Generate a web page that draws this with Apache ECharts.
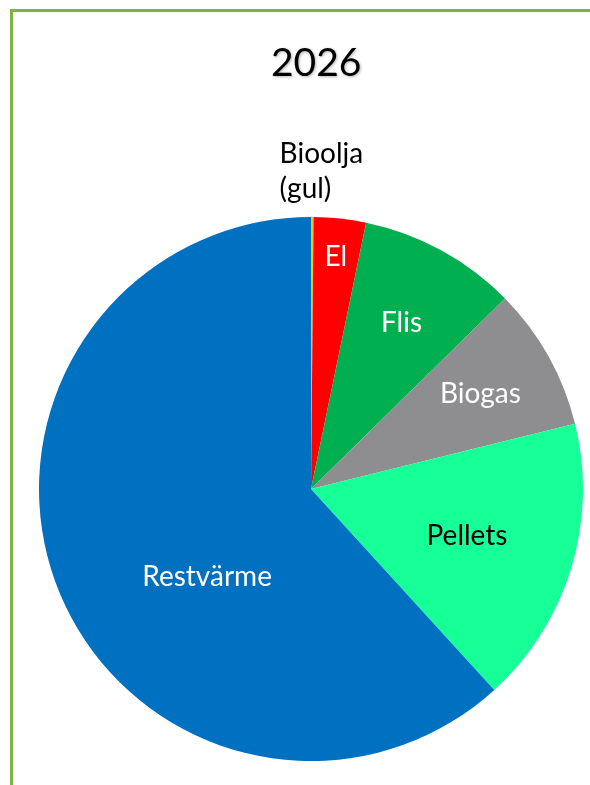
<!DOCTYPE html>
<html>
<head>
<meta charset="utf-8">
<script src="https://cdn.jsdelivr.net/npm/echarts@6/dist/echarts.min.js"></script>
<style>
    html, body { margin: 0; padding: 0; background: #fff; }
    #pieChart { width: 590px; height: 785px; }
</style>
</head>
<body>
<div id="pieChart"></div>
<script>
// 数据
var names = ['Bioolja\n(gul)', 'El', 'Flis', 'Biogas', 'Pellets', 'Restvärme']
var values = [0.15, 3.1, 9.4, 8.5, 17.1, 61.8]
var colors = ['#ffc000', '#ff0000', '#00b050', '#8e8e91', '#17ff97', '#0070c0']
var labelColors = ['#000', '#fff', '#fff', '#fff', '#000', '#fff']
// label distance from centre and angle shift (deg), per slice
var labelRadius = [318, 233, 189, 194, 163, 136]
var labelShift = [1.6, 0, 0, 0, 0, -19]

var cx = 311,
    cy = 489

var myChart = echarts.init(document.getElementById('pieChart'))
var data = values.map(function(v, i) {
    return {
        name: names[i],
        value: v,
        itemStyle: { color: colors[i] },
        label: { color: labelColors[i] },
    }
})

var option = {
    animation: false,
    title: {
        text: '2026',
        left: 266,
        top: 39,
        textStyle: {
            fontFamily: 'Lato',
            fontWeight: 'normal',
            fontSize: 39,
            color: '#000',
            textShadowColor: 'rgba(0,0,0,0.3)',
            textShadowBlur: 3,
            textShadowOffsetX: 1,
            textShadowOffsetY: 1,
        },
    },
    graphic: [
        {
            type: 'polyline',
            shape: { points: [[11.5, 785], [11.5, 10.5], [590, 10.5]] },
            style: { stroke: '#7fb445', lineWidth: 3, fill: null },
        },
    ],
    series: [
        {
            name: '2026',
            type: 'pie',
            center: [cx, cy],
            radius: [0, 272],
            startAngle: 90,
            clockwise: true,
            data: data,
            label: {
                show: true,
                position: 'inside',
                fontFamily: 'Lato',
                fontSize: 28,
                lineHeight: 35,
                align: 'left',
            },
            labelLine: { show: false },
            labelLayout: function(params) {
                var r = params.labelRect
                var lx = r.x + r.width / 2,
                    ly = r.y + r.height / 2
                var a = Math.atan2(ly - cy, lx - cx) + (labelShift[params.dataIndex] * Math.PI) / 180
                var R = labelRadius[params.dataIndex]
                var x = cx + R * Math.cos(a),
                    y = cy + R * Math.sin(a)
                return {
                    x: x - r.width / 2,
                    y: y,
                    align: 'left',
                    verticalAlign: 'middle',
                }
            },
            itemStyle: { borderWidth: 0 },
            emphasis: { disabled: true },
        },
    ],
}
myChart.setOption(option)
</script>
</body>
</html>
